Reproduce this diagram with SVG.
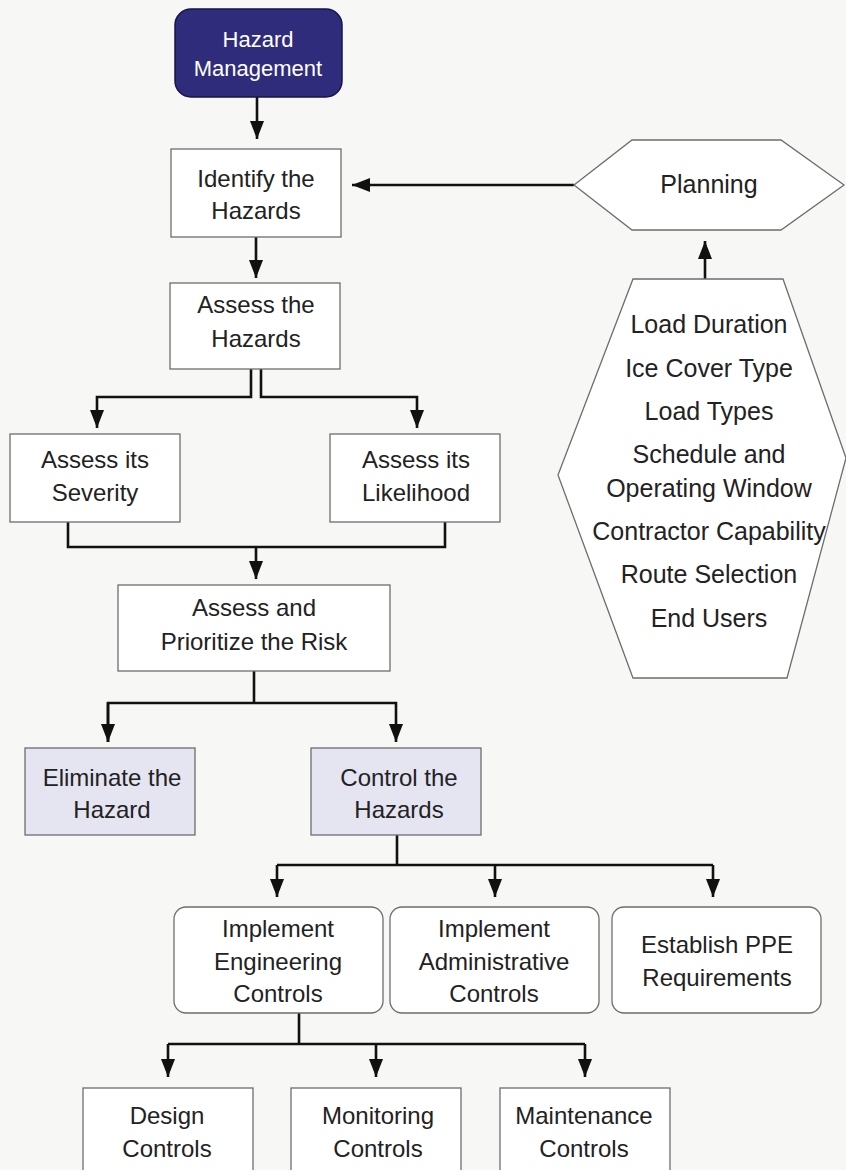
<svg xmlns="http://www.w3.org/2000/svg" width="846" height="1170" viewBox="0 0 846 1170">
<style>
.bg{fill:#f7f7f6}
.box{fill:#ffffff;stroke:#6e6e6e;stroke-width:1.3}
.lav{fill:#e5e4f1;stroke:#6e6e6e;stroke-width:1.3}
.top{fill:#2f2c7c;stroke:#16154a;stroke-width:1.5}
.t{font-family:"Liberation Sans",Arial,sans-serif;font-size:24px;fill:#222;text-anchor:middle}
.th{font-size:25px}
.tw{font-family:"Liberation Sans",Arial,sans-serif;font-size:22px;fill:#ffffff;text-anchor:middle}
.c{fill:none;stroke:#111;stroke-width:2.6}
</style>
<defs>
<marker id="ah" markerUnits="userSpaceOnUse" markerWidth="18" markerHeight="14" refX="18" refY="7" orient="auto">
<path d="M0,0 L18,7 L0,14 z" fill="#111"/>
</marker>
</defs>
<rect class="bg" x="0" y="0" width="846" height="1170"/>

<g id="connectors">
<line class="c" x1="257" y1="97" x2="257" y2="139" marker-end="url(#ah)"/>
<line class="c" x1="574" y1="185" x2="352" y2="185" marker-end="url(#ah)"/>
<line class="c" x1="705" y1="279" x2="705" y2="241" marker-end="url(#ah)"/>
<line class="c" x1="256" y1="237" x2="256" y2="278" marker-end="url(#ah)"/>
<polyline class="c" points="251,369 251,397 97,397 97,428" marker-end="url(#ah)"/>
<polyline class="c" points="261,369 261,397 417,397 417,428" marker-end="url(#ah)"/>
<polyline class="c" points="68,522 68,547 445,547 445,522"/>
<line class="c" x1="256" y1="547" x2="256" y2="579" marker-end="url(#ah)"/>
<line class="c" x1="254" y1="671" x2="254" y2="703"/>
<polyline class="c" points="108,742 108,703 396,703 396,742" marker-end="url(#ah)"/>
<line class="c" x1="108" y1="703" x2="108" y2="742" marker-end="url(#ah)"/>
<line class="c" x1="397" y1="835" x2="397" y2="865"/>
<polyline class="c" points="277,865 713,865"/>
<line class="c" x1="277" y1="865" x2="277" y2="897" marker-end="url(#ah)"/>
<line class="c" x1="495" y1="865" x2="495" y2="897" marker-end="url(#ah)"/>
<line class="c" x1="713" y1="865" x2="713" y2="897" marker-end="url(#ah)"/>
<line class="c" x1="299" y1="1013" x2="299" y2="1044"/>
<polyline class="c" points="168,1044 585,1044"/>
<line class="c" x1="168" y1="1044" x2="168" y2="1077" marker-end="url(#ah)"/>
<line class="c" x1="376" y1="1044" x2="376" y2="1077" marker-end="url(#ah)"/>
<line class="c" x1="585" y1="1044" x2="585" y2="1077" marker-end="url(#ah)"/>
</g>

<g id="hazard-management">
<rect class="top" x="175" y="9" width="167" height="88" rx="16"/>
<text class="tw" x="258" y="47">Hazard</text>
<text class="tw" x="258" y="76">Management</text>
</g>

<g id="identify">
<rect class="box" x="171" y="149" width="170" height="88"/>
<text class="t" x="256" y="187">Identify the</text>
<text class="t" x="256" y="219">Hazards</text>
</g>

<g id="planning">
<polygon class="box" points="574,185 632,140 781,140 844,185 781,230 632,230"/>
<text class="t th" x="709" y="193">Planning</text>
</g>

<g id="planning-factors">
<polygon class="box" points="633,279 783,279 846,458 787,678 633,678 558,475"/>
<text class="t th" x="709" y="333">Load Duration</text>
<text class="t th" x="709" y="377">Ice Cover Type</text>
<text class="t th" x="709" y="420">Load Types</text>
<text class="t th" x="709" y="463">Schedule and</text>
<text class="t th" x="709" y="497">Operating Window</text>
<text class="t th" x="709" y="540">Contractor Capability</text>
<text class="t th" x="709" y="583">Route Selection</text>
<text class="t th" x="709" y="627">End Users</text>
</g>

<g id="assess-hazards">
<rect class="box" x="170" y="283" width="170" height="86"/>
<text class="t" x="256" y="313">Assess the</text>
<text class="t" x="256" y="347">Hazards</text>
</g>

<g id="severity">
<rect class="box" x="10" y="434" width="170" height="88"/>
<text class="t" x="95" y="468">Assess its</text>
<text class="t" x="95" y="501">Severity</text>
</g>

<g id="likelihood">
<rect class="box" x="330" y="434" width="170" height="88"/>
<text class="t" x="416" y="468">Assess its</text>
<text class="t" x="416" y="501">Likelihood</text>
</g>

<g id="prioritize">
<rect class="box" x="118" y="585" width="272" height="86"/>
<text class="t" x="254" y="616">Assess and</text>
<text class="t" x="254" y="650">Prioritize the Risk</text>
</g>

<g id="eliminate">
<rect class="lav" x="25" y="748" width="170" height="87"/>
<text class="t" x="112" y="786">Eliminate the</text>
<text class="t" x="112" y="818">Hazard</text>
</g>

<g id="control">
<rect class="lav" x="311" y="748" width="170" height="87"/>
<text class="t" x="399" y="786">Control the</text>
<text class="t" x="399" y="818">Hazards</text>
</g>

<g id="engineering">
<rect class="box" x="174" y="907" width="209" height="106" rx="12"/>
<text class="t" x="278" y="937">Implement</text>
<text class="t" x="278" y="970">Engineering</text>
<text class="t" x="278" y="1002">Controls</text>
</g>

<g id="administrative">
<rect class="box" x="390" y="907" width="209" height="106" rx="12"/>
<text class="t" x="494" y="937">Implement</text>
<text class="t" x="494" y="970">Administrative</text>
<text class="t" x="494" y="1002">Controls</text>
</g>

<g id="ppe">
<rect class="box" x="612" y="907" width="209" height="106" rx="12"/>
<text class="t" x="717" y="953">Establish PPE</text>
<text class="t" x="717" y="986">Requirements</text>
</g>

<g id="design">
<rect class="box" x="83" y="1088" width="170" height="100"/>
<text class="t" x="167" y="1124">Design</text>
<text class="t" x="167" y="1157">Controls</text>
</g>

<g id="monitoring">
<rect class="box" x="291" y="1088" width="170" height="100"/>
<text class="t" x="378" y="1124">Monitoring</text>
<text class="t" x="378" y="1157">Controls</text>
</g>

<g id="maintenance">
<rect class="box" x="500" y="1088" width="170" height="100"/>
<text class="t" x="584" y="1124">Maintenance</text>
<text class="t" x="584" y="1157">Controls</text>
</g>
</svg>
